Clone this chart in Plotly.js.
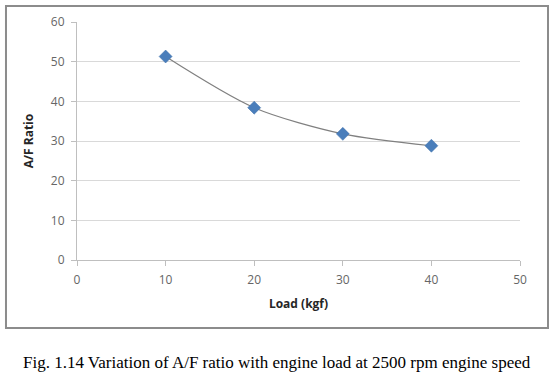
<!DOCTYPE html>
<html>
<head>
<meta charset="utf-8">
<script src="https://cdn.plot.ly/plotly-3.0.1.min.js"></script>
<style>html,body{margin:0;padding:0;background:#fff;}#chart{width:554px;height:384px;}</style>
</head>
<body>
<div id="chart"></div>
<script>
const loads = [10, 20, 30, 40];
const afRatio = [51.3, 38.4, 31.8, 28.8];
const xTicks = [0, 10, 20, 30, 40, 50];
const yTicks = [0, 10, 20, 30, 40, 50, 60];
const xTitle = "Load (kgf)";
const yTitle = "A/F Ratio";
const caption = "Fig. 1.14 Variation of A/F ratio with engine load at 2500 rpm engine speed";

const traces = [
  {x: loads, y: afRatio, type: 'scatter', mode: 'lines',
   line: {shape: 'spline', smoothing: 0.8, color: '#808080', width: 1.2},
   hoverinfo: 'skip', showlegend: false},
  {x: loads, y: afRatio, type: 'scatter', mode: 'markers',
   marker: {symbol: 'diamond', size: 10, color: '#4a7ebb', line: {color: '#3d6ea8', width: 0.5}},
   showlegend: false}
];

const tickFont = {family: 'Open Sans, Liberation Sans, sans-serif', size: 12, color: '#666666'};
const titleFont = {family: 'Open Sans, Liberation Sans, sans-serif', size: 12, color: '#262626'};
const layout = {
  width: 554, height: 384,
  margin: {l: 77, r: 34, t: 22, b: 124},
  paper_bgcolor: '#fff', plot_bgcolor: '#fff',
  showlegend: false,
  xaxis: {range: [0, 50], tickvals: xTicks, ticktext: xTicks.map(String),
          showgrid: false, zeroline: false, showline: true, linecolor: '#bfbfbf', linewidth: 1,
          ticks: 'outside', ticklen: 5, tickcolor: '#bfbfbf', tickfont: tickFont, ticklabelstandoff: 4,
          title: {text: '<b>' + xTitle + '</b>', font: titleFont, standoff: 12}},
  yaxis: {range: [0, 60], tickvals: yTicks, ticktext: yTicks.map(String),
          showgrid: true, gridcolor: '#d9d9d9', gridwidth: 1, zeroline: false,
          showline: true, linecolor: '#bfbfbf', linewidth: 1,
          ticks: 'outside', ticklen: 5, tickcolor: '#bfbfbf', tickfont: tickFont, ticklabelstandoff: 4,
          title: {text: '<b>' + yTitle + '</b>', font: titleFont, standoff: 14}},
  shapes: [
    {type: 'rect', xref: 'paper', yref: 'paper', x0: -0.1603, x1: 1.0632, y0: -0.2857, y1: 1.0672,
     line: {color: '#8c8c8c', width: 2}, fillcolor: 'rgba(0,0,0,0)', layer: 'below'}
  ],
  annotations: [
    {text: caption, xref: 'paper', yref: 'paper', x: 0.4515, y: -0.4286,
     xanchor: 'center', yanchor: 'middle', showarrow: false,
     font: {family: 'Liberation Serif, Times New Roman, serif', size: 17, color: '#000'}}
  ]
};

Plotly.newPlot('chart', traces, layout, {displayModeBar: false, staticPlot: true});
</script>
</body>
</html>
